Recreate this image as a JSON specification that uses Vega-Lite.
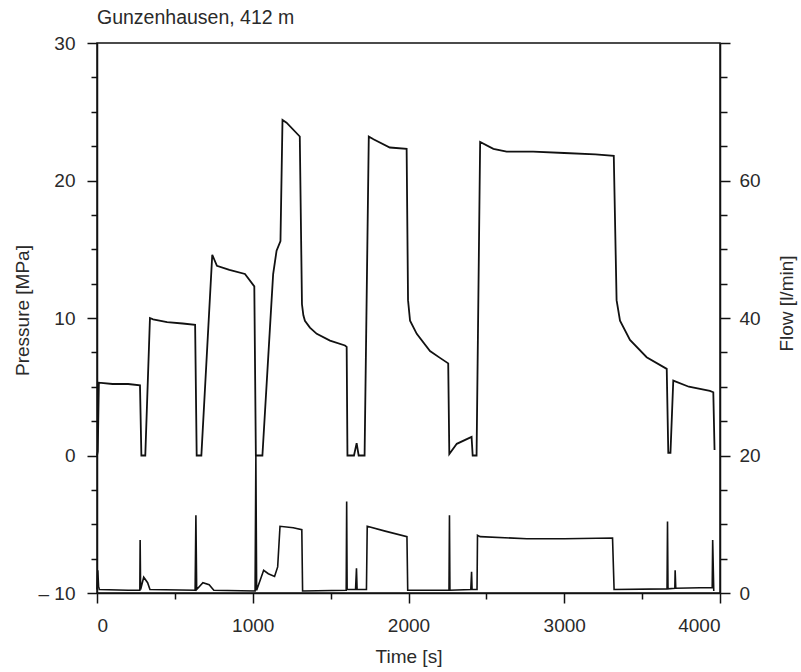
{
  "$schema": "https://vega.github.io/schema/vega-lite/v6.json",
  "autosize": "none",
  "padding": {"left": 97, "top": 43, "right": 81, "bottom": 79},
  "width": 623,
  "height": 550,
  "background": "white",
  "config": {
    "font": "Liberation Sans",
    "view": {"stroke": "#111", "strokeWidth": 1.5},
    "axis": {"grid": false, "domainColor": "#111", "domainWidth": 1.5, "tickColor": "#111", "tickWidth": 1.5, "labelColor": "#2a2a2a", "labelFontSize": 19, "titleColor": "#2a2a2a", "titleFontSize": 19, "titleFontWeight": "normal", "labelFont": "Liberation Sans", "titleFont": "Liberation Sans"}
  },
  "title": {"text": "Gunzenhausen, 412 m", "anchor": "start", "frame": "group", "fontSize": 19.5, "fontWeight": "normal", "color": "#2a2a2a", "offset": 6, "font": "Liberation Sans"},
  "datasets": {
    "pressure": [
      {"t": 0, "p": 0}, {"t": 5, "p": 0.3}, {"t": 12, "p": 5.3}, {"t": 100, "p": 5.2}, {"t": 200, "p": 5.2}, {"t": 276, "p": 5.1},
      {"t": 285, "p": 0}, {"t": 310, "p": 0}, {"t": 340, "p": 10.0}, {"t": 360, "p": 9.9}, {"t": 450, "p": 9.7}, {"t": 550, "p": 9.6}, {"t": 630, "p": 9.5},
      {"t": 640, "p": 0}, {"t": 670, "p": 0}, {"t": 740, "p": 14.6}, {"t": 770, "p": 13.8}, {"t": 850, "p": 13.5}, {"t": 950, "p": 13.2}, {"t": 1010, "p": 12.3},
      {"t": 1020, "p": 0}, {"t": 1062, "p": 0}, {"t": 1121, "p": 11.3}, {"t": 1131, "p": 13.2}, {"t": 1153, "p": 14.9}, {"t": 1178, "p": 15.6},
      {"t": 1191, "p": 24.4}, {"t": 1217, "p": 24.2}, {"t": 1302, "p": 23.2}, {"t": 1316, "p": 11.0}, {"t": 1325, "p": 10.2}, {"t": 1335, "p": 9.8},
      {"t": 1367, "p": 9.3}, {"t": 1411, "p": 8.85}, {"t": 1496, "p": 8.36}, {"t": 1592, "p": 8.0}, {"t": 1603, "p": 7.9}, {"t": 1608, "p": 0}, {"t": 1650, "p": 0}, {"t": 1667, "p": 0.9}, {"t": 1680, "p": 0}, {"t": 1718, "p": 0},
      {"t": 1745, "p": 23.2}, {"t": 1775, "p": 23.0}, {"t": 1880, "p": 22.4}, {"t": 1988, "p": 22.3}, {"t": 1997, "p": 11.3}, {"t": 2010, "p": 9.8}, {"t": 2053, "p": 8.85},
      {"t": 2138, "p": 7.6}, {"t": 2202, "p": 7.1}, {"t": 2255, "p": 6.7}, {"t": 2262, "p": 0.1}, {"t": 2310, "p": 0.85}, {"t": 2395, "p": 1.3}, {"t": 2405, "p": 1.35},
      {"t": 2412, "p": 0}, {"t": 2437, "p": 0}, {"t": 2460, "p": 22.8}, {"t": 2545, "p": 22.3}, {"t": 2630, "p": 22.1}, {"t": 2800, "p": 22.1}, {"t": 3000, "p": 22.0},
      {"t": 3200, "p": 21.9}, {"t": 3318, "p": 21.8}, {"t": 3336, "p": 11.3}, {"t": 3358, "p": 9.8}, {"t": 3422, "p": 8.4}, {"t": 3529, "p": 7.15}, {"t": 3658, "p": 6.3},
      {"t": 3668, "p": 0.2}, {"t": 3682, "p": 0.2}, {"t": 3700, "p": 5.45}, {"t": 3800, "p": 5.0}, {"t": 3935, "p": 4.7}, {"t": 3957, "p": 4.6}, {"t": 3965, "p": 0.4}
    ],
    "flow": [
      {"t": 0, "f": 0.5}, {"t": 5, "f": 3.3}, {"t": 10, "f": 1.0}, {"t": 15, "f": 0.5}, {"t": 200, "f": 0.4}, {"t": 275, "f": 0.4}, {"t": 277, "f": 7.7}, {"t": 280, "f": 0.5},
      {"t": 300, "f": 2.3}, {"t": 325, "f": 1.5}, {"t": 340, "f": 0.5}, {"t": 630, "f": 0.4}, {"t": 635, "f": 11.3}, {"t": 640, "f": 0.5}, {"t": 680, "f": 1.5},
      {"t": 720, "f": 1.2}, {"t": 750, "f": 0.4}, {"t": 1015, "f": 0.3}, {"t": 1020, "f": 20}, {"t": 1025, "f": 0.4}, {"t": 1070, "f": 3.3}, {"t": 1100, "f": 2.8},
      {"t": 1140, "f": 2.4}, {"t": 1160, "f": 3.8}, {"t": 1175, "f": 9.7}, {"t": 1260, "f": 9.5}, {"t": 1315, "f": 9.2}, {"t": 1320, "f": 0.3}, {"t": 1600, "f": 0.4},
      {"t": 1603, "f": 13.3}, {"t": 1606, "f": 0.5}, {"t": 1660, "f": 0.5}, {"t": 1666, "f": 3.6}, {"t": 1670, "f": 0.5}, {"t": 1730, "f": 0.5}, {"t": 1735, "f": 9.7},
      {"t": 1850, "f": 9.0}, {"t": 1990, "f": 8.2}, {"t": 1995, "f": 0.4}, {"t": 2260, "f": 0.4}, {"t": 2263, "f": 11.3}, {"t": 2266, "f": 0.4}, {"t": 2400, "f": 0.5},
      {"t": 2405, "f": 3.1}, {"t": 2408, "f": 0.5}, {"t": 2440, "f": 0.5}, {"t": 2443, "f": 8.4}, {"t": 2460, "f": 8.2}, {"t": 2760, "f": 7.9}, {"t": 3000, "f": 7.9},
      {"t": 3310, "f": 8.0}, {"t": 3320, "f": 0.5}, {"t": 3660, "f": 0.6}, {"t": 3663, "f": 10.4}, {"t": 3666, "f": 0.6}, {"t": 3710, "f": 0.7}, {"t": 3712, "f": 3.3},
      {"t": 3716, "f": 0.7}, {"t": 3950, "f": 0.8}, {"t": 3953, "f": 7.7}, {"t": 3960, "f": 0.3}
    ]
  },
  "layer": [
    {
      "data": {"name": "pressure"},
      "mark": {"type": "line", "color": "#111", "strokeWidth": 1.8, "interpolate": "linear"},
      "encoding": {
        "x": {"field": "t", "type": "quantitative", "scale": {"domain": [0, 4000], "nice": false},
          "axis": {"title": "Time [s]", "values": [0, 500, 1000, 1500, 2000, 2500, 3000, 3500, 4000], "labelExpr": "datum.value % 1000 == 0 ? datum.label : ''", "format": "d", "tickSize": {"condition": {"test": "datum.value % 1000 == 0", "value": 10}, "value": 6}, "labelPadding": 13, "titlePadding": 12}},
        "y": {"field": "p", "type": "quantitative", "scale": {"domain": [-10, 30], "nice": false, "zero": false},
          "axis": {"title": "Pressure [MPa]", "orient": "left", "values": [-10, -7.5, -5, -2.5, 0, 2.5, 5, 7.5, 10, 12.5, 15, 17.5, 20, 22.5, 25, 27.5, 30], "labelExpr": "datum.value % 10 == 0 ? (datum.value < 0 ? '– 10' : datum.label) : ''", "tickSize": {"condition": {"test": "datum.value % 10 == 0", "value": 10}, "value": 6}, "labelPadding": 12, "titlePadding": 6, "titleY": 267}}
      }
    },
    {
      "data": {"name": "flow"},
      "mark": {"type": "line", "color": "#111", "strokeWidth": 1.6, "interpolate": "linear"},
      "encoding": {
        "x": {"field": "t", "type": "quantitative", "scale": {"domain": [0, 4000], "nice": false}},
        "y": {"field": "f", "type": "quantitative", "scale": {"domain": [0, 80], "nice": false},
          "axis": {"title": "Flow [l/min]", "orient": "right", "values": [0, 5, 10, 15, 20, 25, 30, 35, 40, 45, 50, 55, 60, 65, 70, 75, 80], "labelExpr": "datum.value % 20 == 0 && datum.value < 80 ? datum.label : ''", "tickSize": {"condition": {"test": "datum.value % 20 == 0", "value": 10}, "value": 7}, "labelPadding": 9, "titlePadding": 36, "titleAngle": 270, "titleY": 260}}
      }
    }
  ],
  "resolve": {"scale": {"y": "independent"}}
}
